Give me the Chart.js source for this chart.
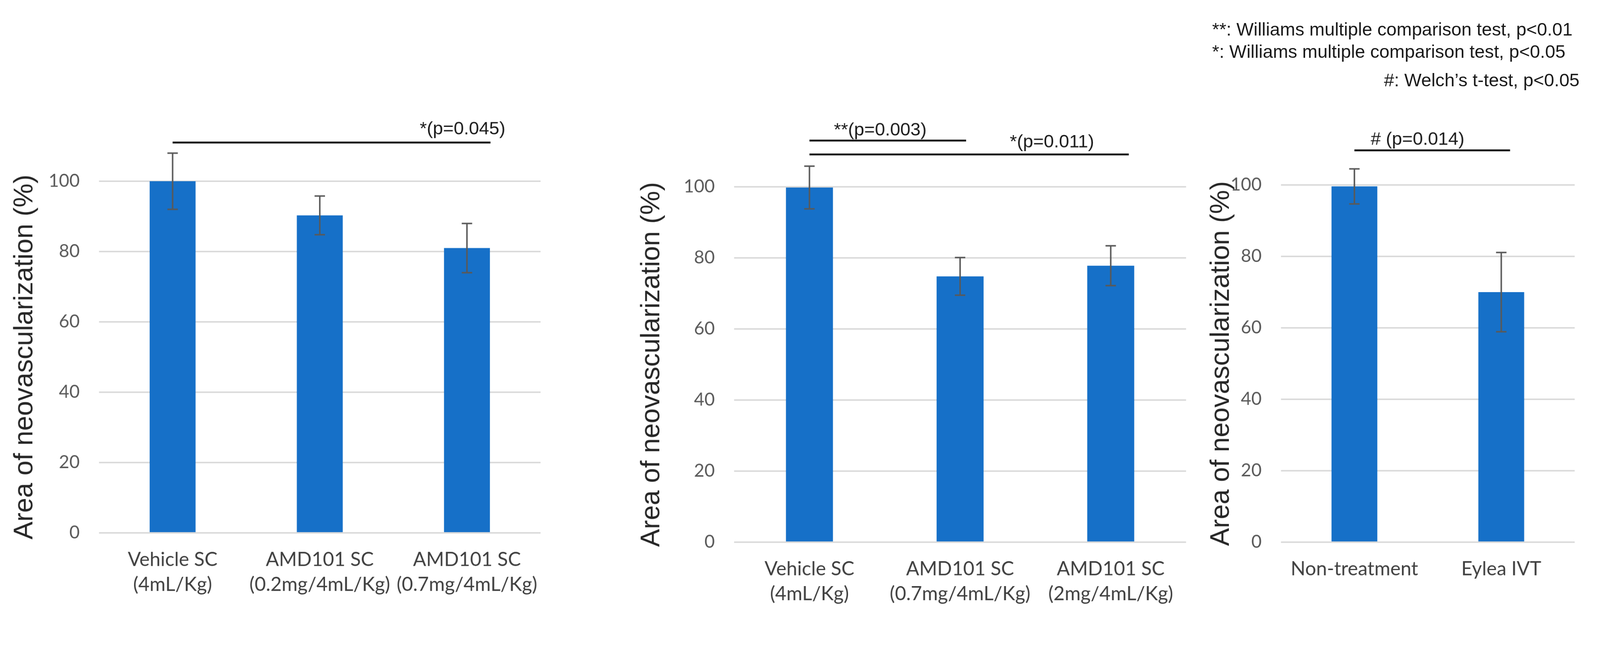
<!DOCTYPE html>
<html>
<head>
<meta charset="utf-8">
<script src="https://cdn.jsdelivr.net/npm/chart.js@4.4.1/dist/chart.umd.min.js"></script>
<style>
  html, body { margin: 0; padding: 0; background: #ffffff; overflow: hidden; }
  #page { position: absolute; left: 0; top: 0; width: 4298px; height: 1657px; overflow: hidden; background: #ffffff; transform-origin: 0 0; }
  .panel { position: absolute; top: 0; height: 1657px; }
  .panel canvas { display: block; }
  .note { position: absolute; font-family: 'Liberation Sans', Arial, sans-serif; font-size: 49px; line-height: 60px; color: #1a1a1a; white-space: nowrap; }
</style>
</head>
<body>
<div id="page">
  <div class="panel" id="p1" style="left:0px;width:1500px"><canvas id="c1" width="1500" height="1657"></canvas></div>
  <div class="panel" id="p2" style="left:1660px;width:1560px"><canvas id="c2" width="1560" height="1657"></canvas></div>
  <div class="panel" id="p3" style="left:3220px;width:1078px"><canvas id="c3" width="1078" height="1657"></canvas></div>
  <div class="note" style="left:3256px;top:49px">**: Williams multiple comparison test, p&lt;0.01</div>
  <div class="note" style="left:3256px;top:108px">*: Williams multiple comparison test, p&lt;0.05</div>
  <div class="note" style="right:55px;top:185px">#: Welch’s t-test, p&lt;0.05</div>
</div>
<script>
// ---------------- data ----------------
const yTicks = [0, 20, 40, 60, 80, 100];
const yAxisTitle = 'Area of neovascularization (%)';

const labels1 = [['Vehicle SC', '(4mL/Kg)'], ['AMD101 SC', '(0.2mg/4mL/Kg)'], ['AMD101 SC', '(0.7mg/4mL/Kg)']];
const means1  = [100.0, 90.3, 81.0];
const errors1 = [8.0, 5.5, 7.0];
const brackets1 = [
  { from: 0, to: 2.16, y: 111.0, text: '*(p=0.045)', tx: 1.97, ty: 114.8 }
];

const labels2 = [['Vehicle SC', '(4mL/Kg)'], ['AMD101 SC', '(0.7mg/4mL/Kg)'], ['AMD101 SC', '(2mg/4mL/Kg)']];
const means2  = [99.8, 74.8, 77.8];
const errors2 = [6.0, 5.3, 5.6];
const brackets2 = [
  { from: 0, to: 1.04, y: 113.0, text: '**(p=0.003)', tx: 0.47, ty: 115.9 },
  { from: 0, to: 2.12, y: 109.1, text: '*(p=0.011)', tx: 1.61, ty: 112.5 }
];

const labels3 = ['Non-treatment', 'Eylea IVT'];
const means3  = [99.6, 70.0];
const errors3 = [4.9, 11.1];
const brackets3 = [
  { from: 0, to: 1.06, y: 109.7, text: '# (p=0.014)', tx: 0.43, ty: 112.7 }
];

// ---------------- layout ----------------
const W = 4298, H = 1657;
(function fitPage() {
  const s = Math.min(window.innerWidth / W, window.innerHeight / H);
  if (s > 0 && Math.abs(s - 1) > 0.001) {
    document.getElementById('page').style.transform = 'scale(' + s + ')';
  }
})();

const panels = [
  { id: 'c1', left: 0,    width: 1500, area: { l: 266,  r: 1452, t: 487, b: 1432 }, titlePad: 24,
    labels: labels1, means: means1, errors: errors1, brackets: brackets1 },
  { id: 'c2', left: 1660, width: 1560, area: { l: 1972, r: 3186, t: 502, b: 1457 }, titlePad: 48,
    labels: labels2, means: means2, errors: errors2, brackets: brackets2 },
  { id: 'c3', left: 3220, width: 1078, area: { l: 3441, r: 4230, t: 497, b: 1457 }, titlePad: 18,
    labels: labels3, means: means3, errors: errors3, brackets: brackets3 }
];

const errorBarPlugin = {
  id: 'errorBars',
  afterDatasetsDraw(chart) {
    const ctx = chart.ctx;
    const ys = chart.scales.y;
    const ds = chart.data.datasets[0];
    const meta = chart.getDatasetMeta(0);
    ctx.save();
    ctx.strokeStyle = '#595959';
    ctx.lineWidth = 4;
    meta.data.forEach((bar, i) => {
      const v = ds.data[i], e = ds.errors[i];
      const top = ys.getPixelForValue(v + e);
      const bot = ys.getPixelForValue(v - e);
      ctx.beginPath();
      ctx.moveTo(bar.x, top); ctx.lineTo(bar.x, bot);
      ctx.moveTo(bar.x - 14, top); ctx.lineTo(bar.x + 14, top);
      ctx.moveTo(bar.x - 14, bot); ctx.lineTo(bar.x + 14, bot);
      ctx.stroke();
    });
    ctx.restore();
  }
};

const bracketPlugin = {
  id: 'brackets',
  afterDraw(chart, args, opts) {
    const ctx = chart.ctx;
    const xs = chart.scales.x, ys = chart.scales.y;
    ctx.save();
    (opts.items || []).forEach(b => {
      const x1 = xs.getPixelForValue(b.from), x2 = xs.getPixelForValue(b.to);
      const y = ys.getPixelForValue(b.y);
      ctx.strokeStyle = '#111111';
      ctx.lineWidth = 5;
      ctx.beginPath(); ctx.moveTo(x1, y); ctx.lineTo(x2, y); ctx.stroke();
      ctx.fillStyle = '#1a1a1a';
      ctx.font = '49px "Liberation Sans", Arial, sans-serif';
      ctx.textAlign = 'center';
      ctx.textBaseline = 'middle';
      ctx.fillText(b.text, xs.getPixelForValue(b.tx), ys.getPixelForValue(b.ty));
    });
    ctx.restore();
  }
};

function build(p) {
  const a = p.area;
  const canvas = document.getElementById(p.id);
  return new Chart(canvas, {
    type: 'bar',
    data: {
      labels: p.labels,
      datasets: [{
        data: p.means,
        errors: p.errors,
        backgroundColor: '#1670C8',
        borderWidth: 0,
        barPercentage: 0.312,
        categoryPercentage: 1.0
      }]
    },
    options: {
      responsive: false,
      animation: false,
      devicePixelRatio: 1,
      layout: { padding: { left: 0, top: a.t, right: p.width - (a.r - p.left), bottom: 0 } },
      plugins: {
        legend: { display: false },
        tooltip: { enabled: false },
        brackets: { items: p.brackets }
      },
      scales: {
        x: {
          grid: { display: false, drawTicks: false },
          border: { display: false },
          ticks: { color: '#404040', font: { family: 'Lato', size: 52, lineHeight: 1.29 }, padding: 39, maxRotation: 0, minRotation: 0, autoSkip: false },
          afterFit(s) { s.height = H - a.b; }
        },
        y: {
          min: 0, max: 100,
          grid: { color: '#d9d9d9', lineWidth: 4, drawTicks: false },
          border: { display: false },
          ticks: { color: '#595959', font: { family: 'Lato', size: 48 }, padding: 52 },
          afterBuildTicks(s) { s.ticks = yTicks.map(v => ({ value: v })); },
          title: { display: true, text: yAxisTitle, color: '#262626',
                   font: { family: 'Liberation Sans', size: 72, lineHeight: 1.2 },
                   padding: { top: p.titlePad, bottom: 0 } },
          afterFit(s) { s.width = a.l - p.left; }
        }
      }
    },
    plugins: [errorBarPlugin, bracketPlugin]
  });
}

const fontLoads = [
  document.fonts.load('52px Lato'),
  document.fonts.load('72px "Liberation Sans"')
];
Promise.race([Promise.all(fontLoads), new Promise(r => setTimeout(r, 800))])
  .catch(() => {})
  .then(() => panels.forEach(build));
</script>
</body>
</html>
